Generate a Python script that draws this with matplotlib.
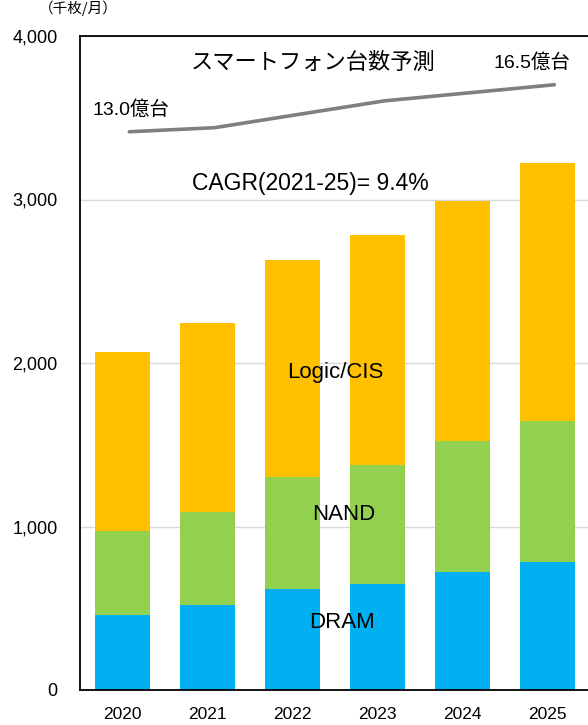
import numpy as np
import matplotlib.pyplot as plt

# データ（千枚/月）
years = ['2020', '2021', '2022', '2023', '2024', '2025']
dram = [460, 520, 618, 648, 722, 783]
nand = [512, 569, 685, 728, 801, 862]
logic = [1095, 1156, 1327, 1407, 1468, 1578]
# スマートフォン台数（億台）
phones = [13.0, 13.3, 14.3, 15.3, 15.9, 16.5]

latin = ['Liberation Sans', 'Noto Sans CJK JP', 'DejaVu Sans']
jp = ['Noto Sans CJK JP', 'DejaVu Sans']

fig = plt.figure(figsize=(5.88, 7.25), dpi=100)
ax = fig.add_axes([80/588, 1 - 690/725, 510/588, 654/725])

x = np.arange(len(years))
w = 0.65
ax.bar(x, dram, width=w, color='#00B0F0', zorder=2)
ax.bar(x, nand, width=w, bottom=dram, color='#92D050', zorder=2)
bottom2 = np.array(dram) + np.array(nand)
ax.bar(x, logic, width=w, bottom=bottom2, color='#FFC000', zorder=2)

ax.set_xlim(-0.5, 5.5)
ax.set_ylim(0, 4000)
ax.set_yticks([0, 1000, 2000, 3000, 4000])
ax.set_yticklabels(['0', '1,000', '2,000', '3,000', '4,000'],
                   family='Liberation Sans', fontsize=13)
ax.set_xticks(x)
ax.set_xticklabels(years, family='Liberation Sans', fontsize=12.5)
ax.tick_params(axis='y', length=0, pad=16)
ax.tick_params(axis='x', length=0, pad=12)
ax.grid(axis='y', color='#D9D9D9', linewidth=1, zorder=0)
for s in ax.spines.values():
    s.set_color('black')
    s.set_linewidth(1.3)

# 台数の折れ線（第2軸、非表示）
ax2 = ax.twinx()
ax2.plot(x + 0.08, phones, color='#7F7F7F', linewidth=2.6, solid_capstyle='round')
ax2.set_ylim(-28.57, 20.13)
ax2.axis('off')

# 文字
ax.text(0.457, 0.959, 'スマートフォン台数予測', transform=ax.transAxes,
        ha='center', va='center', family=jp, fontsize=16)
ax.text(0.962, 0.959, '16.5億台', transform=ax.transAxes,
        ha='right', va='center', family=latin, fontsize=14)
ax.text(0.024, 0.888, '13.0億台', transform=ax.transAxes,
        ha='left', va='center', family=latin, fontsize=14)
ax.text(2.21, 3095, 'CAGR(2021-25)= 9.4%', ha='center', va='center',
        family=latin, fontsize=16.5)
ax.text(2.5, 1939, 'Logic/CIS', ha='center', va='center', family=latin, fontsize=16)
ax.text(2.6, 1076, 'NAND', ha='center', va='center', family=latin, fontsize=16)
ax.text(2.58, 410, 'DRAM', ha='center', va='center', family=latin, fontsize=16)

fig.text(78/588, 1 - 1/725, '（千枚/月）', ha='center', va='top',
         family=jp, fontsize=10.5)

plt.savefig('out.png', dpi=100)
